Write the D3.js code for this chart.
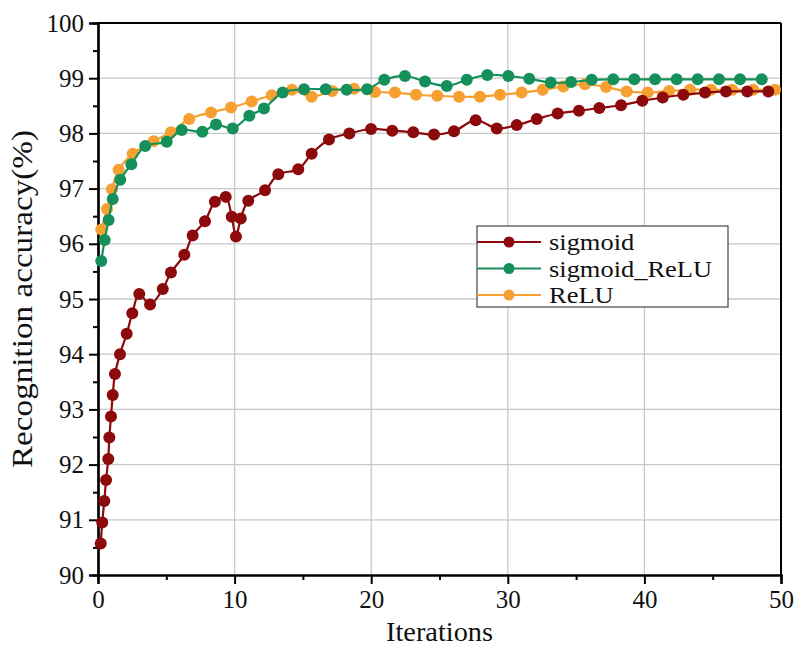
<!DOCTYPE html>
<html><head><meta charset="utf-8">
<script src="https://cdn.jsdelivr.net/npm/d3@7"></script>
<style>body{margin:0;background:#fff}svg{display:block}text{font-family:"Liberation Serif","Times New Roman",serif;fill:#111}</style>
</head><body><svg id="c" width="796" height="648"></svg>
<script>
const sigmoidX=[0.2,0.31,0.46,0.59,0.75,0.83,0.95,1.08,1.24,1.61,2.10,2.51,3.02,3.81,4.74,5.34,6.32,6.93,7.83,8.56,9.35,9.79,10.1,10.45,11.0,12.23,13.2,14.66,15.64,16.91,18.4,19.99,21.54,23.08,24.6,26.06,27.65,29.19,30.65,32.12,33.65,35.21,36.7,38.29,39.85,41.34,42.85,44.44,45.97,47.53,49.07];
const sigmoidY=[90.57,90.95,91.34,91.72,92.10,92.49,92.87,93.26,93.64,94.0,94.37,94.74,95.09,94.90,95.18,95.48,95.80,96.15,96.41,96.76,96.85,96.49,96.13,96.46,96.78,96.97,97.26,97.35,97.63,97.89,98.0,98.08,98.05,98.02,97.98,98.04,98.24,98.09,98.15,98.26,98.36,98.41,98.46,98.51,98.59,98.65,98.70,98.74,98.76,98.76,98.76];
const sigReluX=[0.24,0.49,0.78,1.08,1.63,2.44,3.46,5.03,6.13,7.64,8.64,9.86,11.08,12.15,13.52,15.08,16.67,18.2,19.7,20.96,22.47,23.94,25.53,27.0,28.5,30.04,31.57,33.14,34.63,36.14,37.72,39.26,40.78,42.36,43.9,45.46,47.0,48.59];
const sigReluY=[95.69,96.07,96.43,96.81,97.16,97.44,97.77,97.85,98.06,98.03,98.16,98.09,98.32,98.45,98.74,98.80,98.80,98.79,98.80,98.97,99.04,98.94,98.86,98.97,99.06,99.04,98.99,98.92,98.93,98.97,98.98,98.98,98.98,98.98,98.98,98.98,98.98,98.98];
const reluX=[0.24,0.66,1.02,1.51,2.54,4.07,5.34,6.68,8.27,9.74,11.25,12.72,14.2,15.64,17.15,18.74,20.28,21.74,23.28,24.84,26.43,27.96,29.43,31.02,32.55,34.06,35.65,37.19,38.70,40.24,41.8,43.34,44.88,46.43,47.97,49.56];
const reluY=[96.26,96.63,96.99,97.34,97.63,97.86,98.02,98.26,98.38,98.47,98.58,98.69,98.79,98.665,98.77,98.81,98.75,98.74,98.70,98.68,98.665,98.665,98.70,98.74,98.79,98.85,98.89,98.84,98.76,98.74,98.77,98.79,98.79,98.79,98.79,98.79];
const seriesNames=["sigmoid","sigmoid_ReLU","ReLU"];
const seriesColors=["#8c0a0c","#15905a","#f5a031"];
const xTicks=[0,10,20,30,40,50];
const yTicks=[90,91,92,93,94,95,96,97,98,99,100];
const xLabel="Iterations";
const yLabel="Recognition accuracy(%)";

const svg=d3.select("#c");
const L=98,R=781,T=23,B=575;
const x=d3.scaleLinear().domain([0,50]).range([L,R]);
const y=d3.scaleLinear().domain([90,100]).range([B,T]);

// grid
const g=svg.append("g");
g.selectAll(".gx").data(xTicks.slice(1,-1)).join("line")
 .attr("x1",d=>x(d)).attr("x2",d=>x(d)).attr("y1",T).attr("y2",B)
 .attr("stroke","#c8c8c8").attr("stroke-width",1.3);
g.selectAll(".gy").data(yTicks.slice(1,-1)).join("line")
 .attr("y1",d=>y(d)).attr("y2",d=>y(d)).attr("x1",L).attr("x2",R)
 .attr("stroke","#c8c8c8").attr("stroke-width",1.3);

// border top/right
svg.append("line").attr("x1",L).attr("x2",R).attr("y1",T).attr("y2",T).attr("stroke","#000").attr("stroke-width",2);
svg.append("line").attr("x1",R).attr("x2",R).attr("y1",T).attr("y2",B).attr("stroke","#000").attr("stroke-width",2);

// axes
const xAxis=d3.axisBottom(x).tickValues(xTicks).tickSize(9).tickPadding(6).tickFormat(d3.format("d"));
const xMinor=d3.axisBottom(x).tickValues([5,15,25,35,45]).tickSize(5).tickFormat("");
const yAxis=d3.axisLeft(y).tickValues(yTicks).tickSize(9).tickPadding(5).tickFormat(d3.format("d"));
const yMinor=d3.axisLeft(y).tickValues(d3.range(90.5,100,1)).tickSize(5).tickFormat("");
function style(sel){sel.select(".domain").attr("stroke","#000").attr("stroke-width",2.2);sel.selectAll(".tick line").attr("stroke","#000").attr("stroke-width",2);sel.selectAll("text").attr("font-size",25).attr("font-family","Liberation Serif").attr("fill","#111");}
svg.append("g").attr("transform",`translate(0,${B})`).call(xMinor).call(style);
svg.append("g").attr("transform",`translate(0,${B})`).call(xAxis).call(style);
svg.append("g").attr("transform",`translate(${L},0)`).call(yMinor).call(style);
svg.append("g").attr("transform",`translate(${L},0)`).call(yAxis).call(style);

svg.append("text").attr("x",(L+R)/2).attr("y",641).attr("text-anchor","middle").attr("font-size",28)
 .attr("textLength",107).attr("lengthAdjust","spacingAndGlyphs").text(xLabel);
svg.append("text").attr("transform",`translate(32,${(T+B)/2}) rotate(-90)`).attr("text-anchor","middle").attr("font-size",29)
 .attr("textLength",338).attr("lengthAdjust","spacingAndGlyphs").text(yLabel);

// series
const data=[d3.zip(sigmoidX,sigmoidY),d3.zip(sigReluX,sigReluY),d3.zip(reluX,reluY)];
const line=d3.line().x(d=>x(d[0])).y(d=>y(d[1])).curve(d3.curveCatmullRom.alpha(0.5));
const order=[2,1,0];
order.forEach(i=>{
  const s=svg.append("g");
  s.append("path").datum(data[i]).attr("d",line).attr("fill","none").attr("stroke",seriesColors[i]).attr("stroke-width",2.2);
  s.selectAll("circle").data(data[i]).join("circle").attr("cx",d=>x(d[0])).attr("cy",d=>y(d[1])).attr("r",6).attr("fill",seriesColors[i]);
});

// legend
const lg=svg.append("g").attr("transform","translate(477,226)");
lg.append("rect").attr("width",251).attr("height",81).attr("fill","#fff").attr("stroke","#444").attr("stroke-width",1.2);
seriesNames.forEach((n,i)=>{
  const yy=16+i*26.5;
  lg.append("line").attr("x1",0).attr("x2",64).attr("y1",yy).attr("y2",yy).attr("stroke",seriesColors[i]).attr("stroke-width",2.2);
  lg.append("circle").attr("cx",32).attr("cy",yy).attr("r",5.5).attr("fill",seriesColors[i]);
  const t=lg.append("text").attr("x",72).attr("y",yy+8).attr("font-size",23).text(n);
  const w=t.node().getComputedTextLength();
  t.attr("textLength",w*1.15).attr("lengthAdjust","spacingAndGlyphs");
});
</script></body></html>
